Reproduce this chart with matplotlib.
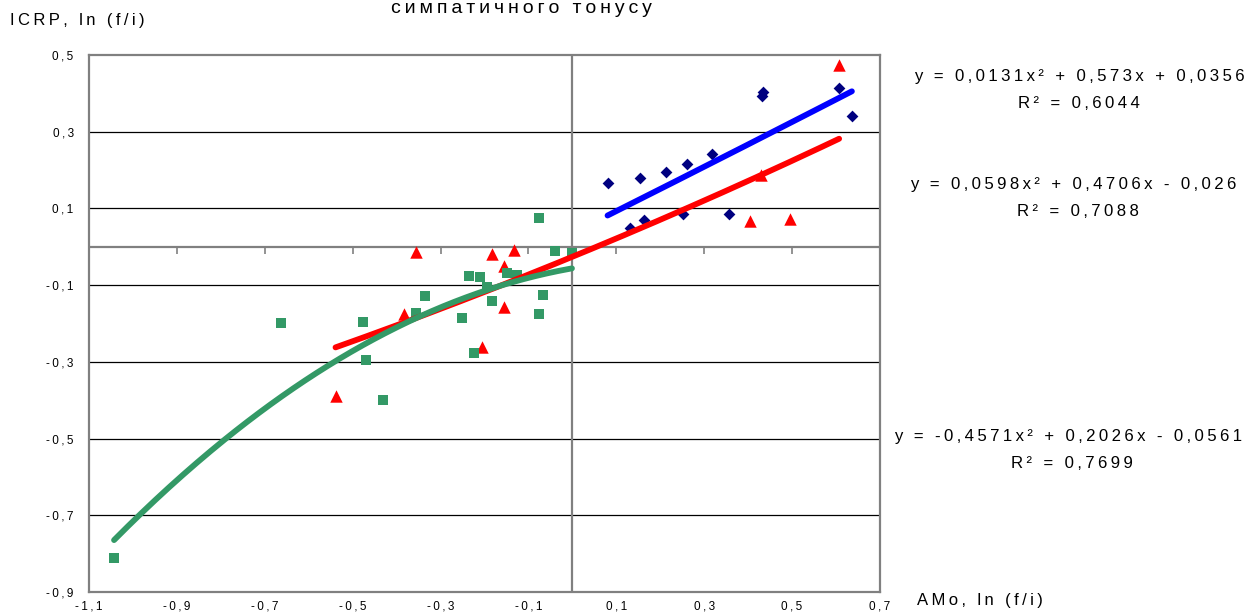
import numpy as np
import matplotlib.pyplot as plt
from matplotlib.lines import TICKDOWN

plt.rcParams['font.family'] = ['Liberation Sans', 'DejaVu Sans']

# group 1 - navy diamonds
blue_x = [0.080, 0.154, 0.213, 0.260, 0.318, 0.162, 0.130, 0.252, 0.357, 0.434, 0.432, 0.606, 0.636]
blue_y = [0.165, 0.180, 0.195, 0.215, 0.243, 0.071, 0.048, 0.086, 0.086, 0.404, 0.393, 0.415, 0.341]

# group 2 - red triangles
red_x = [0.607, 0.429, 0.405, 0.496, -0.357, -0.183, -0.134, -0.155, -0.384, -0.155, -0.206, -0.539]
red_y = [0.474, 0.186, 0.067, 0.072, -0.013, -0.020, -0.008, -0.050, -0.176, -0.156, -0.260, -0.389]

# group 3 - green squares
green_x = [-0.075, -0.039, -0.001, -0.236, -0.211, -0.148, -0.127, -0.194, -0.183, -0.066,
           -0.252, -0.075, -0.336, -0.357, -0.662, -0.477, -0.470, -0.223, -0.431, -1.043]
green_y = [0.076, -0.011, -0.017, -0.075, -0.078, -0.068, -0.074, -0.106, -0.141, -0.126,
           -0.186, -0.176, -0.129, -0.172, -0.199, -0.196, -0.296, -0.276, -0.399, -0.812]

# polynomial trend coefficients (a, b, c) for y = a*x^2 + b*x + c
blue_fit = (0.0131, 0.573, 0.0356)
red_fit = (0.0598, 0.4706, -0.026)
green_fit = (-0.4571, 0.2026, -0.0561)
blue_r2, red_r2, green_r2 = 0.6044, 0.7088, 0.7699

ticks = np.round(np.arange(-1.1, 0.71, 0.2), 1)
yticks = np.round(np.arange(-0.9, 0.51, 0.2), 1)


def spaced(s):
    # widen the lettering with thin spaces between characters
    return '\u2009'.join(s)


def comma(v, nd=1):
    return f"{v:.{nd}f}".replace('.', ',')


def eq_text(fit):
    a, b, c = fit
    def num(v):
        return f"{v:g}".replace('.', ',')
    sb = '+' if b >= 0 else '-'
    sc = '+' if c >= 0 else '-'
    return f"y = {num(a)}x² {sb} {num(abs(b))}x {sc} {num(abs(c))}"


fig = plt.figure(figsize=(12.52, 6.13), dpi=100)
ax = fig.add_axes([89 / 1252, 21 / 613, 791 / 1252, 537 / 613])

ax.set_xlim(-1.1, 0.7)
ax.set_ylim(-0.9, 0.5)
ax.set_xticks(ticks)
ax.set_xticklabels([spaced(comma(t)) for t in ticks])
ax.set_yticks(yticks)
ax.set_yticklabels([spaced(comma(t)) for t in yticks])
ax.tick_params(axis='both', length=0, labelsize=8.5, colors='black')
ax.tick_params(axis='x', pad=6)
ax.tick_params(axis='y', pad=11)

for s in ax.spines.values():
    s.set_color('#808080')
    s.set_linewidth(1.6)

# horizontal grid
for yv in yticks[1:-1]:
    ax.axhline(yv, color='black', lw=0.9, zorder=1)

# axes crossing at zero
ax.axhline(0, color='#808080', lw=1.6, zorder=1.5)
ax.axvline(0, color='#808080', lw=1.6, zorder=1.5)
ax.plot(ticks[1:-1], np.zeros(len(ticks) - 2), ls='none', marker=TICKDOWN,
        ms=5, mew=1.2, color='#808080', zorder=1.5)

ax.scatter(blue_x, blue_y, marker='D', s=36, color='#000080', lw=0, zorder=3)
ax.scatter(red_x, red_y, marker='^', s=80, color='#FF0000', lw=0, zorder=3)
ax.scatter(green_x, green_y, marker='s', s=62, color='#339966', lw=0, zorder=3)


def trend(xs, fit, color, lw):
    xx = np.linspace(min(xs), max(xs), 200)
    a, b, c = fit
    ax.plot(xx, a * xx ** 2 + b * xx + c, color=color, lw=lw,
            solid_capstyle='round', zorder=4)


trend(blue_x, blue_fit, '#0000FF', 4.2)
trend(red_x, red_fit, '#FF0000', 4.2)
trend(green_x, green_fit, '#339966', 4.2)

# trend equations: (fit, r2, equation centre x, R² centre x, equation y)
eq_kw = dict(ha='center', va='center', fontsize=12.1)
for fit, r2, xe, xr, y1 in [(blue_fit, blue_r2, 1079, 1079, 76),
                            (red_fit, red_r2, 1073, 1078, 184),
                            (green_fit, green_r2, 1068, 1072, 437)]:
    fig.text(xe / 1252, 1 - y1 / 613, spaced(eq_text(fit)), **eq_kw)
    fig.text(xr / 1252, 1 - (y1 + 27) / 613, spaced(f"R² = {comma(r2, 4)}"), **eq_kw)

fig.text(10 / 1252, 1 - 20 / 613, spaced('ICRP, ln (f/i)'), ha='left', va='center', fontsize=12)
fig.text(917 / 1252, 1 - 600 / 613, spaced('AMo, ln (f/i)'), ha='left', va='center', fontsize=12)
fig.text(521 / 1252, 1 - 13 / 613, spaced('симпатичного тонусу'), ha='center', va='baseline',
         fontsize=14)

fig.savefig('out.png', dpi=100)
